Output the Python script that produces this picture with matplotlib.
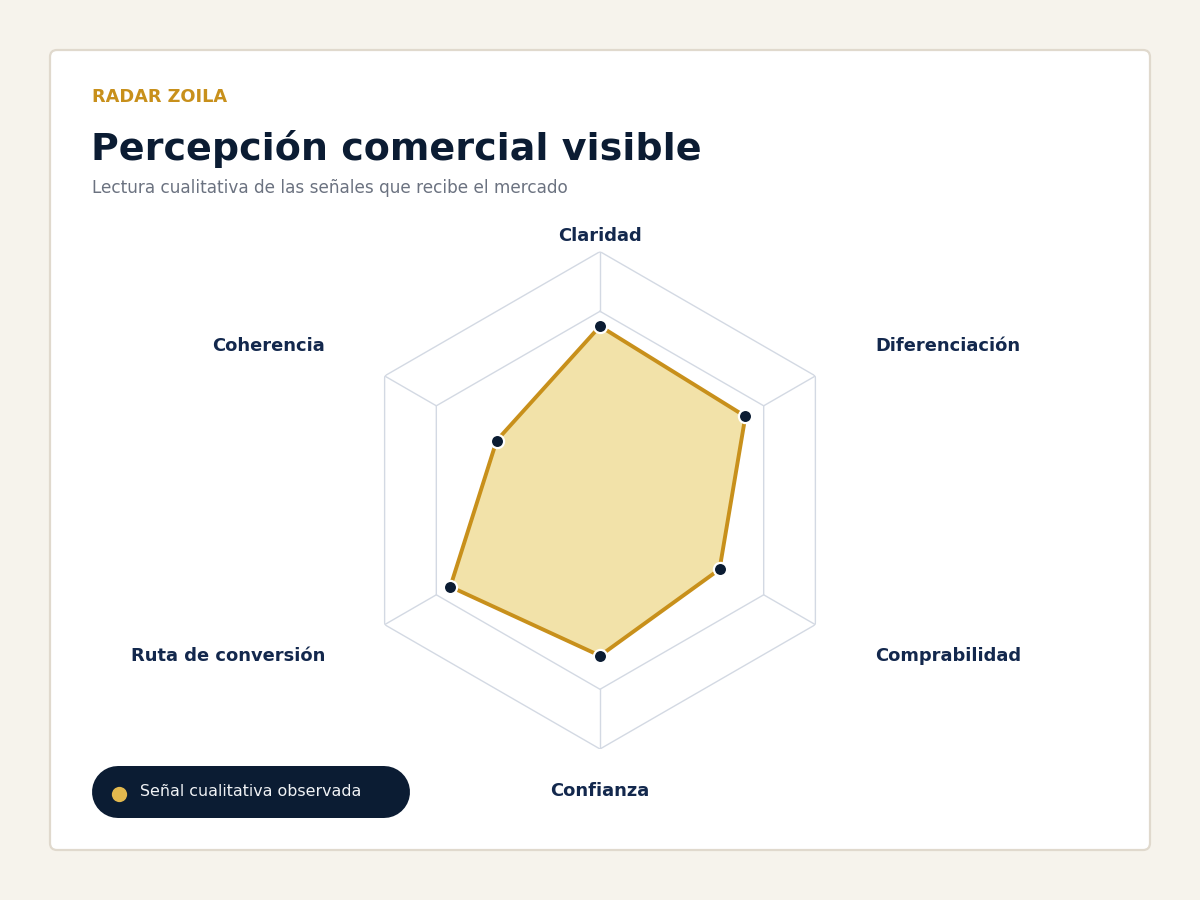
import numpy as np
import matplotlib
matplotlib.use("Agg")
import matplotlib.pyplot as plt
from matplotlib.patches import FancyBboxPatch

plt.rcParams["font.family"] = ["DejaVu Sans"]

# ---- data ----
categories = ["Claridad", "Diferenciación", "Comprabilidad", "Confianza",
              "Ruta de conversión", "Coherencia"]
values = [70, 67.5, 55.5, 62.5, 69.5, 48]
ring_levels = [76, 100]
r_max = 100
series_name = "Señal cualitativa observada"
eyebrow = "RADAR ZOILA"
title = "Percepción comercial visible"
subtitle = "Lectura cualitativa de las señales que recibe el mercado"

# ---- style ----
BG = "#f6f3ec"
CARD_EDGE = "#e0d9cd"
NAVY = "#0b1c33"
LABEL = "#13284d"
GOLD = "#c8901b"
FILL = "#f2e2a9"
GRID = "#d3d9e3"
SUB = "#6b7280"
DOT = "#e2b84e"

W, H = 1200, 900
PT = 72 / 100  # points per pixel
fig = plt.figure(figsize=(12, 9), dpi=100, facecolor=BG)

def fx(px):
    return px / W

def fy(py):
    return 1 - py / H

# card
bg_ax = fig.add_axes([0, 0, 1, 1])
bg_ax.set_xlim(0, W)
bg_ax.set_ylim(H, 0)
bg_ax.axis("off")
card = FancyBboxPatch((50, 50), 1100, 800, boxstyle="round,pad=0,rounding_size=7",
                      facecolor="white", edgecolor=CARD_EDGE, linewidth=1.6)
bg_ax.add_patch(card)

# legend pill
bg_ax.plot([92 + 26, 410 - 26], [792, 792], color=NAVY, lw=52 * PT,
           solid_capstyle="round")
bg_ax.plot([119], [794], marker="o", markersize=11, color=DOT, markeredgewidth=0)
bg_ax.text(140, 792, series_name, color="#f1f3f6", fontsize=11.4,
           va="center", ha="left")

# header texts
fig.text(fx(92), fy(97), eyebrow, color=GOLD, fontsize=12.8, fontweight="bold",
         va="center", ha="left")
fig.text(fx(91), fy(149), title, color=NAVY, fontsize=27.4, fontweight="bold",
         va="center", ha="left")
fig.text(fx(92), fy(188), subtitle, color=SUB, fontsize=12.2,
         va="center", ha="left")

# radar
cx, cy, R = 600, 500.3, 248.7
ax = fig.add_axes([fx(cx - R), fy(cy + R), 2 * R / W, 2 * R / H], projection="polar")
ax.set_theta_offset(np.pi / 2)
ax.set_theta_direction(-1)
ax.set_ylim(0, r_max)
ax.set_facecolor("none")
ax.grid(False)
ax.set_xticks([])
ax.set_yticks([])
ax.spines["polar"].set_visible(False)

n = len(categories)
angles = np.linspace(0, 2 * np.pi, n, endpoint=False)
ang_closed = np.concatenate([angles, angles[:1]])

for lvl in ring_levels:
    ax.plot(ang_closed, [lvl] * (n + 1), color=GRID, lw=1.0, zorder=1)
for a in angles:
    ax.plot([a, a], [ring_levels[0], ring_levels[-1]], color=GRID, lw=1.0, zorder=1)

vals_closed = values + values[:1]
ax.fill(ang_closed, vals_closed, color=FILL, zorder=2, lw=0)
ax.plot(ang_closed, vals_closed, color=GOLD, lw=2.8, zorder=3, solid_joinstyle="round")
ax.plot(angles, values, ls="none", marker="o", markersize=9.5, color=NAVY,
        markeredgecolor="white", markeredgewidth=1.6, zorder=4, clip_on=False)

# category labels
label_pos = [(600, 236, "center"), (875, 346, "left"), (875, 656, "left"),
             (600, 791, "center"), (325, 656, "right"), (325, 346, "right")]
for cat, (px, py, ha) in zip(categories, label_pos):
    fig.text(fx(px), fy(py), cat, color=LABEL, fontsize=12.9, fontweight="bold",
             va="center", ha=ha)

fig.savefig("out.png", dpi=100, facecolor=BG)
